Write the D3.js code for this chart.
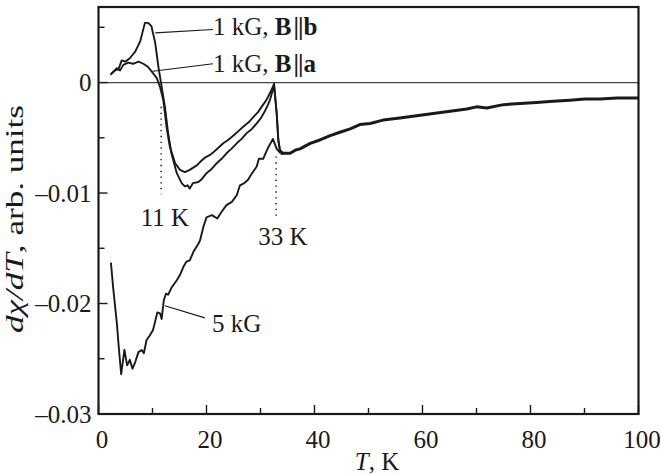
<!DOCTYPE html>
<html>
<head>
<meta charset="utf-8">
<script src="https://cdn.jsdelivr.net/npm/d3@7"></script>
<style>
  body { margin: 0; background: #fff; }
  svg { display: block; font-family: 'Liberation Serif', 'Times New Roman', serif; }
</style>
</head>
<body>
<svg id="chart" width="661" height="474"></svg>
<script>
// [T (K), dchi/dT (arb. units)]
const curveBb = [
  [2.2, 0.0007], [3.1, 0.0011], [3.7, 0.0012], [4.3, 0.002], [5.0, 0.0019], [5.8, 0.0022],
  [6.8, 0.0028], [7.7, 0.0037], [8.6, 0.0054], [9.2, 0.0054], [9.8, 0.0051], [10.5, 0.0036],
  [11.1, 0.0014], [11.7, -0.0004], [12.3, -0.0022], [12.9, -0.0046], [13.5, -0.0064],
  [14.5, -0.0082], [15.4, -0.0091], [16.0, -0.0094], [16.5, -0.0093], [16.9, -0.0096],
  [17.5, -0.0091], [18.5, -0.009], [19.2, -0.0087], [20.0, -0.0082], [21.0, -0.0078],
  [21.9, -0.0073], [22.8, -0.0069], [23.7, -0.0064], [24.6, -0.006], [25.6, -0.0055],
  [26.5, -0.0051], [27.4, -0.0046], [28.4, -0.0042], [29.3, -0.0037], [30.1, -0.0032],
  [30.8, -0.0026], [31.4, -0.002], [31.8, -0.0015], [32.2, -0.0008], [32.5, -0.0001],
  [33.0, -0.0028], [33.3, -0.0052], [33.6, -0.0062], [34.2, -0.0065]
];
const curveBa = [
  [2.4, 0.0008], [3.4, 0.0013], [4.0, 0.0011], [4.6, 0.0016], [5.5, 0.0018], [6.4, 0.0017],
  [7.4, 0.0019], [8.3, 0.0017], [9.2, 0.0014], [9.85, 0.001], [10.8, 0.0004], [11.4, -0.0004],
  [12.0, -0.0016], [12.6, -0.004], [13.2, -0.0058], [14.2, -0.0073], [15.1, -0.0079],
  [16.0, -0.0081], [16.9, -0.0079], [18.2, -0.0075], [19.0, -0.0071], [19.7, -0.0068],
  [20.5, -0.0066], [21.3, -0.0063], [22.2, -0.0059], [23.1, -0.0055], [24.0, -0.0052],
  [25.0, -0.0048], [25.9, -0.0044], [26.8, -0.004], [27.8, -0.0036], [28.7, -0.0031],
  [29.5, -0.0027], [30.2, -0.0022], [30.8, -0.0018], [31.4, -0.0013], [32.0, -0.0007],
  [32.5, -0.0002], [33.0, -0.0028], [33.3, -0.0052], [33.6, -0.0061], [34.2, -0.0064]
];
const curve5kG = [
  [2.3, -0.0163], [2.7, -0.0185], [3.4, -0.0218], [3.85, -0.0245], [4.2, -0.0264],
  [4.8, -0.0242], [5.3, -0.0256], [5.8, -0.0251], [6.3, -0.0259], [6.8, -0.0253],
  [7.4, -0.0244], [8.0, -0.0242], [8.4, -0.0245], [8.9, -0.0233], [9.5, -0.0229],
  [10.1, -0.0224], [10.9, -0.0208], [11.4, -0.0209], [11.7, -0.0214], [12.1, -0.0197],
  [12.5, -0.0191], [12.9, -0.0192], [13.6, -0.0185], [14.5, -0.0179], [15.1, -0.0174],
  [15.7, -0.0167], [16.3, -0.0162], [16.9, -0.0161], [17.6, -0.0153], [18.5, -0.0146],
  [18.8, -0.0143], [19.4, -0.0131], [20.0, -0.0122], [21.0, -0.012], [22.0, -0.0123],
  [22.8, -0.0117], [23.7, -0.0111], [24.7, -0.0108], [25.6, -0.0102], [26.2, -0.0093],
  [27.0, -0.0091], [27.7, -0.0088], [28.3, -0.0083], [29.3, -0.0076], [29.7, -0.0069],
  [30.5, -0.0069], [31.4, -0.0059], [32.3, -0.0051], [33.0, -0.006], [33.7, -0.0064]
];
// all three curves coincide above ~34 K
const curveHighT = [
  [33.7, -0.0064], [35.5, -0.0064], [36.5, -0.0061], [37.3, -0.006], [39.2, -0.0055],
  [41.0, -0.0052], [42.9, -0.0048], [44.7, -0.0045], [46.6, -0.0042], [48.4, -0.0038],
  [50.3, -0.0037], [52.7, -0.0034], [55.8, -0.0032], [58.9, -0.003], [62.0, -0.0028],
  [65.1, -0.0026], [68.2, -0.0024], [70.0, -0.0022], [71.9, -0.0023], [75.0, -0.002],
  [78.1, -0.0019], [81.1, -0.0018], [84.2, -0.0017], [87.3, -0.0016], [90.1, -0.0015],
  [92.9, -0.0015], [96.0, -0.0014], [100, -0.0014]
];
const xMajorTicks = [0, 20, 40, 60, 80, 100];
const xMinorTicks = [10, 30, 50, 70, 90];
const yMajorTicks = [0, -0.01, -0.02, -0.03];
const yMinorTicks = [0.005, -0.005, -0.015, -0.025];
const markTemps = [11.6, 32.9];

const svg = d3.select('#chart');
const plotL = 98.5, plotR = 638.5, plotT = 7, plotB = 414;
const ink = '#1a1a1a';
const fs = 25;

const x = d3.scaleLinear().domain([0, 100]).range([plotL, plotR]);
const y = d3.scaleLinear().domain([-0.03, 0.005]).range([plotB, 27.3]);

// zero line
svg.append('line')
  .attr('x1', plotL).attr('x2', plotR)
  .attr('y1', y(0)).attr('y2', y(0))
  .attr('stroke', '#444').attr('stroke-width', 1.3);

// ticks (inward)
const g = svg.append('g').attr('stroke', ink).attr('stroke-width', 1.4);
xMajorTicks.forEach(t => g.append('line').attr('x1', x(t)).attr('x2', x(t)).attr('y1', plotB).attr('y2', plotB - 9));
xMinorTicks.forEach(t => g.append('line').attr('x1', x(t)).attr('x2', x(t)).attr('y1', plotB).attr('y2', plotB - 6));
yMajorTicks.forEach(v => g.append('line').attr('x1', plotL).attr('x2', plotL + 9).attr('y1', y(v)).attr('y2', y(v)));
yMinorTicks.forEach(v => g.append('line').attr('x1', plotL).attr('x2', plotL + 6).attr('y1', y(v)).attr('y2', y(v)));

// frame
svg.append('rect')
  .attr('x', plotL).attr('y', plotT)
  .attr('width', plotR - plotL).attr('height', plotB - plotT)
  .attr('fill', 'none').attr('stroke', ink).attr('stroke-width', 2.2);

// tick labels
svg.selectAll('text.xt').data(xMajorTicks).join('text')
  .attr('class', 'xt')
  .attr('x', d => x(d) + 3.5).attr('y', 448)
  .attr('text-anchor', 'middle').attr('font-size', fs).attr('fill', ink)
  .text(d => d);

svg.selectAll('text.yt').data(yMajorTicks).join('text')
  .attr('class', 'yt')
  .attr('x', plotL - 7).attr('y', d => y(d) + 8.5)
  .attr('text-anchor', 'end').attr('font-size', fs).attr('fill', ink)
  .text(d => d === 0 ? '0' : '\u2013' + d3.format('.2f')(-d));

// axis titles
const xt = svg.append('text')
  .attr('x', 377).attr('y', 470)
  .attr('text-anchor', 'middle').attr('font-size', fs).attr('fill', ink);
xt.append('tspan').attr('font-style', 'italic').text('T');
xt.append('tspan').text(', K');

const yt = svg.append('text')
  .attr('transform', 'translate(23,219) rotate(-90)')
  .attr('text-anchor', 'middle').attr('font-size', 25).attr('fill', ink)
  .attr('textLength', 228).attr('lengthAdjust', 'spacingAndGlyphs');
yt.append('tspan').attr('font-style', 'italic').text('d\u03C7/dT');
yt.append('tspan').text(', arb. units');

// curves
const line = d3.line().x(d => x(d[0])).y(d => y(d[1]));
[curveBb, curveBa, curve5kG].forEach(c => {
  svg.append('path').attr('d', line(c))
    .attr('fill', 'none').attr('stroke', ink)
    .attr('stroke-width', 1.9).attr('stroke-linejoin', 'round');
});
svg.append('path').attr('d', line(curveHighT))
  .attr('fill', 'none').attr('stroke', ink)
  .attr('stroke-width', 3).attr('stroke-linejoin', 'round');

// dotted markers
const dotEnds = [[-0.0022, -0.0101], [-0.0067, -0.0122]];
markTemps.forEach((t, i) => {
  svg.append('line')
    .attr('x1', x(t)).attr('x2', x(t))
    .attr('y1', y(dotEnds[i][0])).attr('y2', y(dotEnds[i][1]))
    .attr('stroke', ink).attr('stroke-width', 1.5)
    .attr('stroke-dasharray', '1.3,4.5');
});

svg.append('text').attr('x', 165).attr('y', 226)
  .attr('text-anchor', 'middle').attr('font-size', fs).attr('fill', ink).text('11 K');
svg.append('text').attr('x', 283).attr('y', 245)
  .attr('text-anchor', 'middle').attr('font-size', fs).attr('fill', ink).text('33 K');

// leaders and labels
const leaders = [
  { from: [10.5, 0.0045], to: [21.2, 0.0048] },
  { from: [9.7, 0.001], to: [21.2, 0.0017] },
  { from: [12.3, -0.0202], to: [19.7, -0.0213] }
];
leaders.forEach(l => {
  svg.append('line')
    .attr('x1', x(l.from[0])).attr('y1', y(l.from[1]))
    .attr('x2', x(l.to[0])).attr('y2', y(l.to[1]))
    .attr('stroke', ink).attr('stroke-width', 1.2);
});

function fieldLabel(px, py, axis) {
  const t = svg.append('text').attr('x', px).attr('y', py)
    .attr('font-size', fs).attr('fill', ink);
  t.append('tspan').text('1 kG, ');
  t.append('tspan').attr('font-weight', 'bold').text('B');
  t.append('tspan').attr('font-weight', 'bold').attr('dx', 2).attr('letter-spacing', -1).text('||');
  t.append('tspan').attr('font-weight', 'bold').attr('dx', 1).text(axis);
}
fieldLabel(213, 35, 'b');
fieldLabel(213, 72, 'a');

svg.append('text').attr('x', 212).attr('y', 332)
  .attr('font-size', fs).attr('fill', ink).text('5 kG');
</script>
</body>
</html>
